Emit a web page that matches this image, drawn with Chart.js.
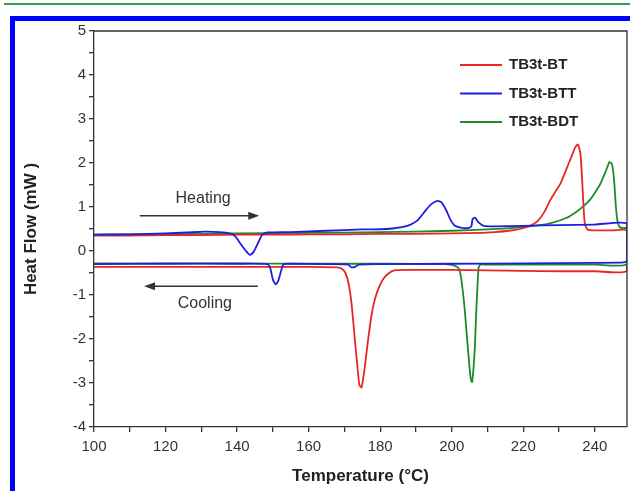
<!DOCTYPE html>
<html>
<head>
<meta charset="utf-8">
<script src="https://cdn.jsdelivr.net/npm/chart.js@4.4.0/dist/chart.umd.min.js"></script>
<style>
  body { margin: 0; background: #fff; overflow: hidden; }
  .greenRule { position: absolute; left: 4px; top: 3px; width: 626px; height: 2px; background: #3a9a4e; }
  .blueFrame { position: absolute; left: 10px; top: 16px; width: 700px; height: 600px;
               border-left: 5px solid #0000ff; border-top: 5px solid #0000ff; }
  #dsc { position: absolute; left: 0; top: 0; }
</style>
</head>
<body>
<div class="greenRule"></div>
<div class="blueFrame"></div>
<canvas id="dsc" width="630" height="491"></canvas>
<script>
// DSC traces: heating run (100 -> 249) then cooling run (249 -> 100)

const seriesNames = ['TB3t-BT', 'TB3t-BTT', 'TB3t-BDT'];

const btTemp = [100, 110, 120, 130, 140, 150, 160, 170, 180, 190, 200, 208, 212, 216, 219, 222, 224, 226, 227.5, 229, 230.5, 232, 233.5, 234.5, 235.3, 236, 236.6, 237.1, 237.8, 239, 245, 249,
  249, 240, 230, 220, 210, 200, 190, 184, 182.5, 181, 179.8, 178.5, 177.5, 176.5, 175.6, 174.8, 174.2, 173.6, 172.8, 172, 171.2, 170.3, 169.2, 168, 160, 150, 140, 130, 120, 110, 100];
const btFlow = [0.35, 0.35, 0.36, 0.36, 0.37, 0.37, 0.38, 0.38, 0.39, 0.39, 0.40, 0.41, 0.43, 0.46, 0.50, 0.58, 0.68, 0.90, 1.15, 1.35, 1.55, 1.85, 2.15, 2.35, 2.42, 2.20, 1.40, 0.70, 0.50, 0.47, 0.47, 0.46,
  -0.45, -0.46, -0.46, -0.45, -0.44, -0.43, -0.43, -0.44, -0.50, -0.62, -0.80, -1.10, -1.50, -2.10, -2.70, -3.10, -3.05, -2.60, -1.90, -1.20, -0.75, -0.50, -0.40, -0.37, -0.36, -0.36, -0.36, -0.36, -0.36, -0.36, -0.36];

const bttTemp = [100, 110, 120, 126, 131, 135, 138, 139.5, 141, 142.5, 143.6, 144.6, 145.8, 147, 148.5, 155, 165, 175, 182, 186, 188.5, 190.5, 192.5, 194.2, 196, 197.2, 198.5, 199.6, 200.8, 202.5, 204.5, 205.5, 205.8, 206.5, 207.5, 209, 212, 220, 230, 240, 249,
  249, 248, 240, 220, 200, 180, 174, 173, 172, 171, 165, 155, 153, 152.3, 151.5, 150.8, 150, 149.3, 148.5, 140, 120, 100];
const bttFlow = [0.37, 0.38, 0.40, 0.42, 0.44, 0.43, 0.40, 0.33, 0.16, 0.00, -0.09, -0.02, 0.17, 0.37, 0.42, 0.43, 0.46, 0.49, 0.50, 0.54, 0.60, 0.70, 0.90, 1.06, 1.14, 1.10, 0.92, 0.72, 0.58, 0.53, 0.52, 0.56, 0.72, 0.76, 0.65, 0.57, 0.56, 0.57, 0.59, 0.60, 0.62,
  -0.22, -0.26, -0.27, -0.28, -0.29, -0.30, -0.31, -0.36, -0.37, -0.31, -0.30, -0.29, -0.30, -0.45, -0.68, -0.76, -0.65, -0.40, -0.30, -0.29, -0.29, -0.30];

const bdtTemp = [100, 120, 140, 160, 180, 190, 200, 210, 218, 224, 228, 232, 235, 237, 238.5, 240, 241.5, 243, 244.1, 244.8, 245.4, 245.9, 246.4, 247, 248, 249,
  249, 240, 230, 220, 210, 208, 207.5, 206.9, 206.4, 205.7, 205.3, 204.6, 203.6, 202.6, 202, 200.8, 198, 180, 160, 140, 120, 100];
const bdtFlow = [0.37, 0.38, 0.40, 0.41, 0.43, 0.44, 0.46, 0.49, 0.53, 0.58, 0.64, 0.75, 0.90, 1.03, 1.15, 1.32, 1.52, 1.80, 2.02, 1.98, 1.60, 1.00, 0.65, 0.54, 0.52, 0.52,
  -0.30, -0.31, -0.31, -0.31, -0.31, -0.31, -0.39, -1.30, -2.29, -2.98, -2.90, -2.29, -1.30, -0.60, -0.40, -0.33, -0.30, -0.29, -0.29, -0.28, -0.28, -0.28];

const seriesColors = ['rgb(232, 38, 38)', 'rgb(30, 30, 225)', 'rgb(28, 140, 42)'];

function toPoints(xs, ys) {
  return xs.map((x, i) => ({ x: x, y: ys[i] }));
}

const fontFamily = "'Liberation Sans', Arial, sans-serif";

// box around the plot + legend + heating/cooling arrows
const extras = {
  id: 'extras',
  afterDraw(chart) {
    const ctx = chart.ctx;
    const a = chart.chartArea;
    const xs = chart.scales.x;
    const ys = chart.scales.y;
    ctx.save();
    ctx.strokeStyle = '#333';
    ctx.lineWidth = 1.3;
    ctx.beginPath();
    ctx.moveTo(a.left, a.top);
    ctx.lineTo(a.right, a.top);
    ctx.lineTo(a.right, a.bottom);
    ctx.stroke();

    // legend
    ctx.font = 'bold 15px ' + fontFamily;
    ctx.textBaseline = 'middle';
    ctx.fillStyle = '#222';
    seriesNames.forEach((name, i) => {
      const y = 65 + i * 28.5;
      ctx.strokeStyle = seriesColors[i];
      ctx.lineWidth = 2;
      ctx.beginPath();
      ctx.moveTo(460, y);
      ctx.lineTo(502, y);
      ctx.stroke();
      ctx.fillText(name, 509, y);
    });

    // arrows
    function arrow(x0, x1, yv) {
      const px0 = xs.getPixelForValue(x0), px1 = xs.getPixelForValue(x1), py = ys.getPixelForValue(yv);
      const dir = Math.sign(px1 - px0);
      ctx.strokeStyle = '#333';
      ctx.fillStyle = '#333';
      ctx.lineWidth = 1.6;
      ctx.beginPath();
      ctx.moveTo(px0, py);
      ctx.lineTo(px1 - dir * 8, py);
      ctx.stroke();
      ctx.beginPath();
      ctx.moveTo(px1, py);
      ctx.lineTo(px1 - dir * 11, py - 4);
      ctx.lineTo(px1 - dir * 11, py + 4);
      ctx.closePath();
      ctx.fill();
    }
    arrow(112.8, 146.2, 0.8);
    arrow(145.8, 114.0, -0.8);

    ctx.font = '16px ' + fontFamily;
    ctx.fillStyle = '#333';
    ctx.textAlign = 'center';
    ctx.fillText('Heating', xs.getPixelForValue(130.5), ys.getPixelForValue(1.2));
    ctx.fillText('Cooling', xs.getPixelForValue(131), ys.getPixelForValue(-1.2));
    ctx.restore();
  }
};

new Chart(document.getElementById('dsc'), {
  type: 'scatter',
  data: {
    datasets: [
      { label: seriesNames[0], data: toPoints(btTemp, btFlow), borderColor: seriesColors[0], order: 1 },
      { label: seriesNames[1], data: toPoints(bttTemp, bttFlow), borderColor: seriesColors[1], order: 0 },
      { label: seriesNames[2], data: toPoints(bdtTemp, bdtFlow), borderColor: seriesColors[2], order: 2 }
    ].map(d => Object.assign(d, { showLine: true, pointRadius: 0, borderWidth: 1.8, tension: 0.2, fill: false }))
  },
  options: {
    responsive: false,
    animation: false,
    layout: { padding: { left: 17, right: 3, top: 31, bottom: 0 } },
    plugins: { legend: { display: false }, tooltip: { enabled: false } },
    scales: {
      x: {
        type: 'linear',
        min: 100,
        max: 249,
        afterBuildTicks: (s) => { s.ticks = []; for (let v = 100; v <= 240; v += 10) s.ticks.push({ value: v }); },
        ticks: {
          callback: (v) => (v % 20 === 0 ? v : ''),
          font: { family: fontFamily, size: 15 },
          color: '#333',
          maxRotation: 0,
          autoSkip: false,
          padding: 6
        },
        grid: { drawOnChartArea: false, tickLength: 5, color: '#333', lineWidth: 1.3 },
        border: { color: '#333', width: 1.3 },
        title: { display: true, text: 'Temperature (°C)', font: { family: fontFamily, size: 17, weight: 'bold' }, color: '#222', padding: { top: 12 } },
        afterFit: (s) => { s.height = 64; }
      },
      y: {
        min: -4,
        max: 5,
        afterBuildTicks: (s) => { s.ticks = []; for (let v = -4; v <= 5; v += 0.5) s.ticks.push({ value: v }); },
        ticks: {
          callback: (v) => (Number.isInteger(v) ? v : ''),
          font: { family: fontFamily, size: 15 },
          color: '#333',
          autoSkip: false,
          padding: 3
        },
        grid: { drawOnChartArea: false, tickLength: 5, color: '#333', lineWidth: 1.3 },
        border: { color: '#333', width: 1.3 },
        title: { display: true, text: 'Heat Flow (mW )', font: { family: fontFamily, size: 17, weight: 'bold' }, color: '#222', padding: { bottom: 8 } },
        afterFit: (s) => { s.width = 77; }
      }
    }
  },
  plugins: [extras]
});
</script>
</body>
</html>
